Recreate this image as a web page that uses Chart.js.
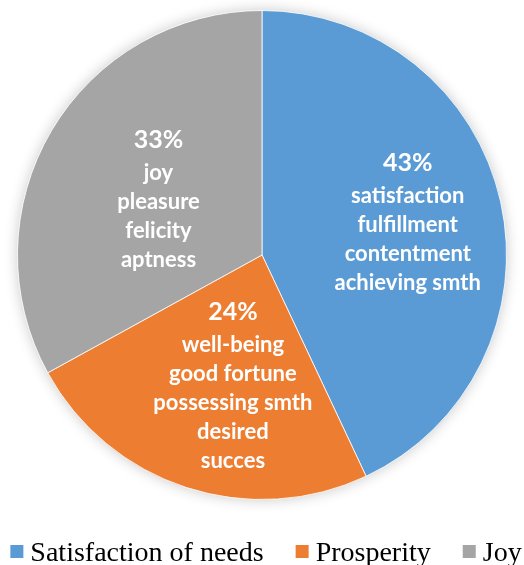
<!DOCTYPE html>
<html>
<head>
<meta charset="utf-8">
<script src="https://cdn.jsdelivr.net/npm/chart.js@4"></script>
<style>
  html, body { margin: 0; padding: 0; background: #fff; }
  #wrap { width: 524px; height: 565px; }
</style>
</head>
<body>
<div id="wrap"><canvas id="chart" width="524" height="565"></canvas></div>
<script>
// --- data ---
const categories = ["Satisfaction of needs", "Prosperity", "Joy"];
const shares = [43, 24, 33];
const sliceWords = [
  ["satisfaction", "fulfillment", "contentment", "achieving smth"],
  ["well-being", "good fortune", "possessing smth", "desired", "succes"],
  ["joy", "pleasure", "felicity", "aptness"]
];
const colors = ["#5B9BD5", "#ED7D31", "#A5A5A5"];

// label placement: radius fraction + angle shift (deg) from slice middle
const labelPos = [
  { r: 0.61, shift: 0.3 },
  { r: 0.55, shift: -5.5 },
  { r: 0.48, shift: -2.5 }
];

// soft glow under the pie
const pieShadow = {
  id: "pieShadow",
  beforeDatasetsDraw(chart) {
    const arc = chart.getDatasetMeta(0).data[0];
    if (!arc) return;
    const ctx = chart.ctx;
    ctx.save();
    ctx.shadowColor = "rgba(0,0,0,0.22)";
    ctx.shadowBlur = 14;
    ctx.fillStyle = "#fff";
    ctx.beginPath();
    ctx.arc(arc.x, arc.y, arc.outerRadius, 0, Math.PI * 2);
    ctx.fill();
    ctx.restore();
  }
};

// white bold text blocks inside slices
const sliceLabels = {
  id: "sliceLabels",
  afterDatasetsDraw(chart) {
    const ctx = chart.ctx;
    const meta = chart.getDatasetMeta(0);
    meta.data.forEach((arc, i) => {
      const p = labelPos[i];
      const mid = (arc.startAngle + arc.endAngle) / 2 + p.shift * Math.PI / 180;
      const cx = arc.x + Math.cos(mid) * arc.outerRadius * p.r;
      const cy = arc.y + Math.sin(mid) * arc.outerRadius * p.r;
      const lines = [shares[i] + "%"].concat(sliceWords[i]);
      const firstGap = 33, lh = 29;
      const total = firstGap + lh * (lines.length - 2);
      let y = cy - total / 2;
      ctx.save();
      ctx.fillStyle = "#fff";
      ctx.textAlign = "center";
      ctx.textBaseline = "middle";
      lines.forEach((t, j) => {
        ctx.font = (j === 0 ? "bold 25px" : "bold 22px") + " Lato, 'Open Sans', sans-serif";
        ctx.fillText(t, cx, y);
        y += j === 0 ? firstGap : lh;
      });
      ctx.restore();
    });
  }
};

// legend drawn by hand: small square, tight gap, serif text
const bottomLegend = {
  id: "bottomLegend",
  afterDraw(chart) {
    const ctx = chart.ctx;
    const box = 13, gap = 7, between = 32, baseline = 561;
    ctx.save();
    ctx.font = "28px 'Liberation Serif', 'Times New Roman', serif";
    const widths = categories.map(c => ctx.measureText(c).width);
    const total = widths.reduce((a, w) => a + box + gap + w, 0) + between * (categories.length - 1);
    let x = (chart.width - total) / 2 + 4;
    categories.forEach((c, i) => {
      ctx.fillStyle = colors[i];
      ctx.fillRect(x, 545, box, box);
      x += box + gap;
      ctx.fillStyle = "#000";
      ctx.textBaseline = "alphabetic";
      ctx.fillText(c, x, baseline);
      x += widths[i] + between;
    });
    ctx.restore();
  }
};

new Chart(document.getElementById("chart"), {
  type: "pie",
  data: {
    labels: categories,
    datasets: [{
      data: shares,
      backgroundColor: colors,
      borderColor: "rgba(255,255,255,0.8)",
      borderWidth: 1
    }]
  },
  options: {
    responsive: false,
    animation: false,
    layout: { padding: { top: 10, bottom: 65, left: 0, right: 0 } },
    plugins: {
      tooltip: { enabled: false },
      legend: { display: false }
    }
  },
  plugins: [pieShadow, sliceLabels, bottomLegend]
});
</script>
</body>
</html>
